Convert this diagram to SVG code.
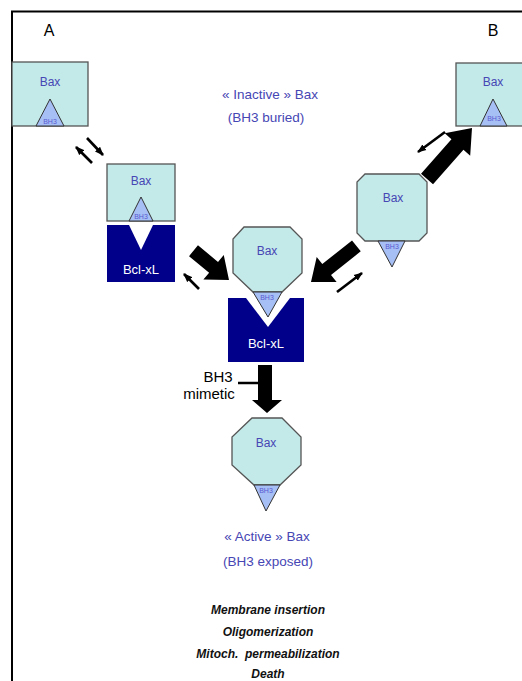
<svg xmlns="http://www.w3.org/2000/svg" width="522" height="681" viewBox="0 0 522 681">
<style>
.bax{fill:#c4e9e9;stroke:#555;stroke-width:1.3}
.bh3{fill:#a6bff5;stroke:#333;stroke-width:1}
.bcl{fill:#00008a}
.lab{font-family:"Liberation Sans",Arial,sans-serif;fill:#4646b4;text-anchor:middle}
.small{font-family:"Liberation Sans",Arial,sans-serif;fill:#5a5ad0;font-size:7px;text-anchor:middle}
.white{font-family:"Liberation Sans",Arial,sans-serif;fill:#fff;font-size:13px;text-anchor:middle}
.blk{font-family:"Liberation Sans",Arial,sans-serif;fill:#000;text-anchor:middle}
.it{font-family:"Liberation Sans",Arial,sans-serif;font-weight:bold;font-style:italic;font-size:12px;fill:#111;text-anchor:middle;white-space:pre}
.thin{stroke:#000;stroke-width:2.6;fill:none;marker-end:url(#ah)}
</style>
<defs>
<marker id="ah" markerWidth="9" markerHeight="8" refX="8" refY="4" orient="auto" markerUnits="userSpaceOnUse">
<path d="M0,0.5 L9,4 L0,7.5 Z" fill="#000"/>
</marker>
</defs>
<rect width="522" height="681" fill="#fff"/>
<path d="M12,681 V11.5 H522" fill="none" stroke="#000" stroke-width="2"/>
<text class="blk" x="49" y="36" font-size="16">A</text>
<text class="blk" x="493" y="36" font-size="16">B</text>

<g id="baxA1">
<rect class="bax" x="12" y="62" width="76" height="64"/>
<text class="lab" x="50" y="86" font-size="12">Bax</text>
<polygon class="bh3" points="36,126 50,99 64,126"/>
<text class="small" x="50" y="124">BH3</text>
</g>

<g id="baxA2">
<rect class="bax" x="107" y="164" width="68" height="57"/>
<text class="lab" x="141" y="185" font-size="12">Bax</text>
<polygon class="bh3" points="129,221 141,197 153,221"/>
<text class="small" x="141" y="219">BH3</text>
</g>

<g id="bclA">
<rect class="bcl" x="107" y="225" width="68" height="57"/>
<polygon points="129,225 153,225 141,250" fill="#fff"/>
<text class="white" x="141" y="274">Bcl-xL</text>
</g>

<g id="bclC">
<rect class="bcl" x="228" y="298" width="76" height="64"/>
<polygon points="246,298 290,298 268,327" fill="#fff"/>
<text class="white" x="266" y="348">Bcl-xL</text>
</g>

<g id="baxC">
<polygon class="bax" points="244,227 290,227 302,239 302,273 282,292 253,292 233,273 233,239"/>
<text class="lab" x="267" y="255" font-size="12">Bax</text>
<polygon class="bh3" points="253,292 282,292 268,317"/>
<text class="small" x="267" y="300">BH3</text>
</g>

<g id="baxB1">
<polygon class="bax" points="365,174 419,174 427,182 427,233 419,241 365,241 357,233 357,182"/>
<text class="lab" x="393" y="202" font-size="12">Bax</text>
<polygon class="bh3" points="378,241 405,241 392,267"/>
<text class="small" x="392" y="249">BH3</text>
</g>

<g id="baxB2">
<rect class="bax" x="456" y="63" width="70" height="63"/>
<text class="lab" x="493" y="86" font-size="12">Bax</text>
<polygon class="bh3" points="480,126 493,99 507,126"/>
<text class="small" x="494" y="121">BH3</text>
</g>

<g id="baxD">
<polygon class="bax" points="252,418 282,418 301,437 301,465 280,485 254,485 232,465 232,437"/>
<text class="lab" x="266" y="447" font-size="12">Bax</text>
<polygon class="bh3" points="254,485 280,485 266,511"/>
<text class="small" x="266" y="493">BH3</text>
</g>

<g id="labels">
<text class="lab" x="270" y="99" font-size="13.5">« Inactive » Bax</text>
<text class="lab" x="266" y="122" font-size="13.5">(BH3 buried)</text>
<text class="lab" x="267" y="541" font-size="13.5">« Active » Bax</text>
<text class="lab" x="268" y="566" font-size="13.5">(BH3 exposed)</text>
<text class="blk" x="218" y="382" font-size="15">BH3</text>
<text class="blk" x="209" y="399" font-size="15">mimetic</text>
<text class="it" x="268" y="614">Membrane insertion</text>
<text class="it" x="268" y="636">Oligomerization</text>
<text class="it" x="268" y="658">Mitoch.  permeabilization</text>
<text class="it" x="268" y="678">Death</text>
</g>

<g id="connectors">
<line class="thin" x1="87" y1="138" x2="103" y2="155"/>
<line class="thin" x1="92" y1="163" x2="76" y2="147"/>
<line class="thin" x1="199" y1="289" x2="184" y2="274"/>
<line class="thin" x1="337" y1="292" x2="362" y2="273"/>
<line class="thin" x1="445" y1="132" x2="418" y2="152"/>
<polygon transform="translate(229,280) rotate(39.5)" points="-46,-7 -20,-7 -20,-16 0,0 -20,16 -20,7 -46,7" fill="#000"/>
<polygon transform="translate(311,282) rotate(141.5)" points="-58,-7 -20,-7 -20,-16 0,0 -20,16 -20,7 -58,7" fill="#000"/>
<polygon transform="translate(472,128) rotate(-48.6)" points="-68,-8 -22,-8 -22,-17 0,0 -22,17 -22,8 -68,8" fill="#000"/>
<polygon points="258,365 272,365 272,400 282,400 267,413 252,400 258,400" fill="#000"/>
<line x1="238" y1="383" x2="258" y2="383" stroke="#000" stroke-width="2.5"/>
</g>
</svg>
